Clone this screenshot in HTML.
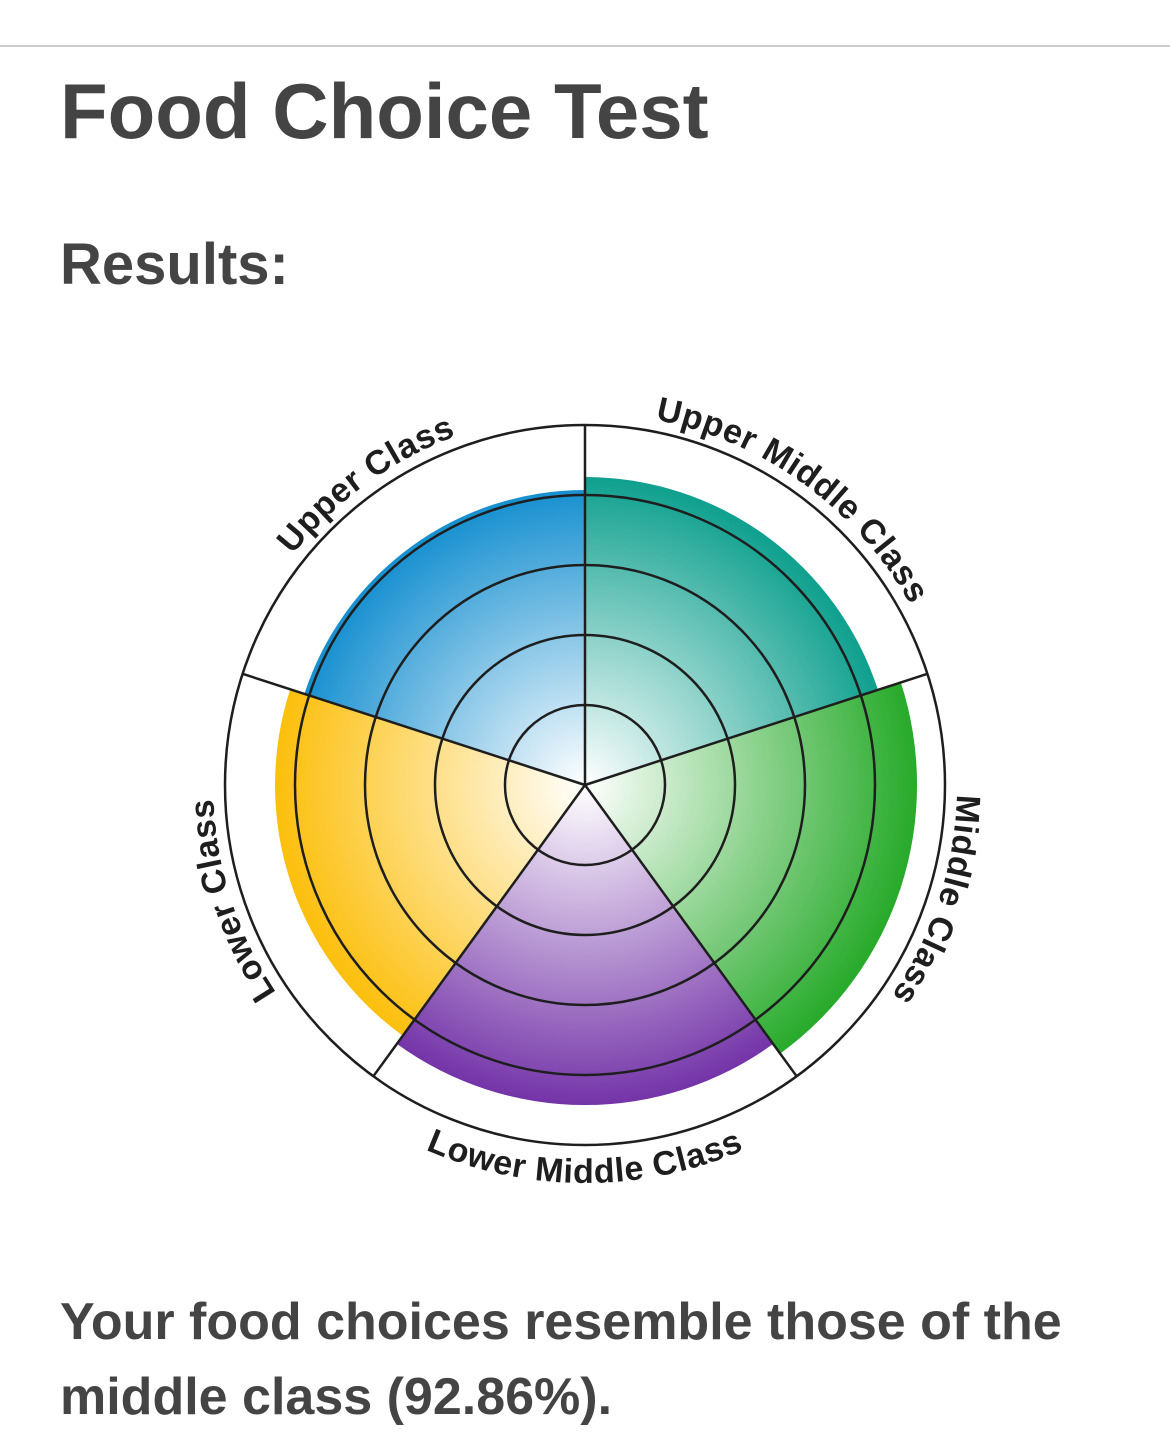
<!DOCTYPE html>
<html><head><meta charset="utf-8"><style>
html,body{margin:0;padding:0;background:#fff;width:1170px;height:1444px;overflow:hidden;font-family:"Liberation Sans",sans-serif;color:#444;}
.rule{position:absolute;left:0;top:45px;width:1170px;height:2px;background:#ccc;}
h1{position:absolute;left:60px;top:63px;margin:0;font-size:78px;font-weight:bold;line-height:96px;}
h2{position:absolute;left:60px;top:230px;margin:0;font-size:58px;font-weight:bold;line-height:70px;}
p{position:absolute;left:60px;top:1285px;margin:0;font-size:52px;font-weight:bold;line-height:75px;width:1100px;}
svg{position:absolute;left:0;top:0;}
</style></head><body>
<div class="rule"></div>
<h1>Food Choice Test</h1>
<h2>Results:</h2>
<svg width="1170" height="1444" viewBox="0 0 1170 1444">
<defs>
<radialGradient id="gb" gradientUnits="userSpaceOnUse" cx="585" cy="785" r="295"><stop offset="0" stop-color="#fff"/><stop offset="1" stop-color="#1790d0"/></radialGradient>
<radialGradient id="gt" gradientUnits="userSpaceOnUse" cx="585" cy="785" r="308"><stop offset="0" stop-color="#fff"/><stop offset="1" stop-color="#0fa08e"/></radialGradient>
<radialGradient id="gg" gradientUnits="userSpaceOnUse" cx="585" cy="785" r="332"><stop offset="0" stop-color="#fff"/><stop offset="1" stop-color="#27aa2a"/></radialGradient>
<radialGradient id="gp" gradientUnits="userSpaceOnUse" cx="585" cy="785" r="320"><stop offset="0" stop-color="#fff"/><stop offset="1" stop-color="#7434a8"/></radialGradient>
<radialGradient id="gy" gradientUnits="userSpaceOnUse" cx="585" cy="785" r="310"><stop offset="0" stop-color="#fff"/><stop offset="1" stop-color="#fcbf0c"/></radialGradient>
<path id="pu" d="M227.4,887.5 A372,372 0 0 1 793,476.6"/>
<path id="pum" d="M377,476.6 A372,372 0 0 1 942.6,887.5"/>
<path id="pm" d="M814,491.9 A372,372 0 0 1 598,1156.8"/>
<path id="pl" d="M572,1156.8 A372,372 0 0 1 356,491.9"/>
<path id="plm" d="M211,921.1 A398,398 0 0 0 959,921.1"/>
</defs>
<path d="M585,785 L585,490 A295,295 0 0 0 304.4,693.8 Z" fill="url(#gb)"/>
<path d="M585,785 L877.9,689.8 A308,308 0 0 0 585,477 Z" fill="url(#gt)"/>
<path d="M585,785 L780.1,1053.6 A332,332 0 0 0 900.8,682.4 Z" fill="url(#gg)"/>
<path d="M585,785 L396.9,1043.9 A320,320 0 0 0 773.1,1043.9 Z" fill="url(#gp)"/>
<path d="M585,785 L290.2,689.2 A310,310 0 0 0 402.8,1035.8 Z" fill="url(#gy)"/>
<g fill="none" stroke="#1e1e1e" stroke-width="2.5">
<circle cx="585" cy="785" r="80"/>
<circle cx="585" cy="785" r="150"/>
<circle cx="585" cy="785" r="220"/>
<circle cx="585" cy="785" r="290"/>
<circle cx="585" cy="785" r="360"/>
<path d="M585,785 L585,425 M585,785 L927.4,673.8 M585,785 L796.6,1076.2 M585,785 L373.4,1076.2 M585,785 L242.6,673.8"/>
</g>
<g font-family="Liberation Sans, sans-serif" font-weight="bold" font-size="34" letter-spacing="0.6" fill="#1e1e1e">
<text><textPath href="#pu" startOffset="50%" text-anchor="middle">Upper Class</textPath></text>
<text><textPath href="#pum" startOffset="50%" text-anchor="middle">Upper Middle Class</textPath></text>
<text><textPath href="#pm" startOffset="50%" text-anchor="middle">Middle Class</textPath></text>
<text><textPath href="#pl" startOffset="50%" text-anchor="middle">Lower Class</textPath></text>
<text><textPath href="#plm" startOffset="50%" text-anchor="middle">Lower Middle Class</textPath></text>
</g>
</svg>
<p>Your food choices resemble those of the middle class (92.86%).</p>
</body></html>
